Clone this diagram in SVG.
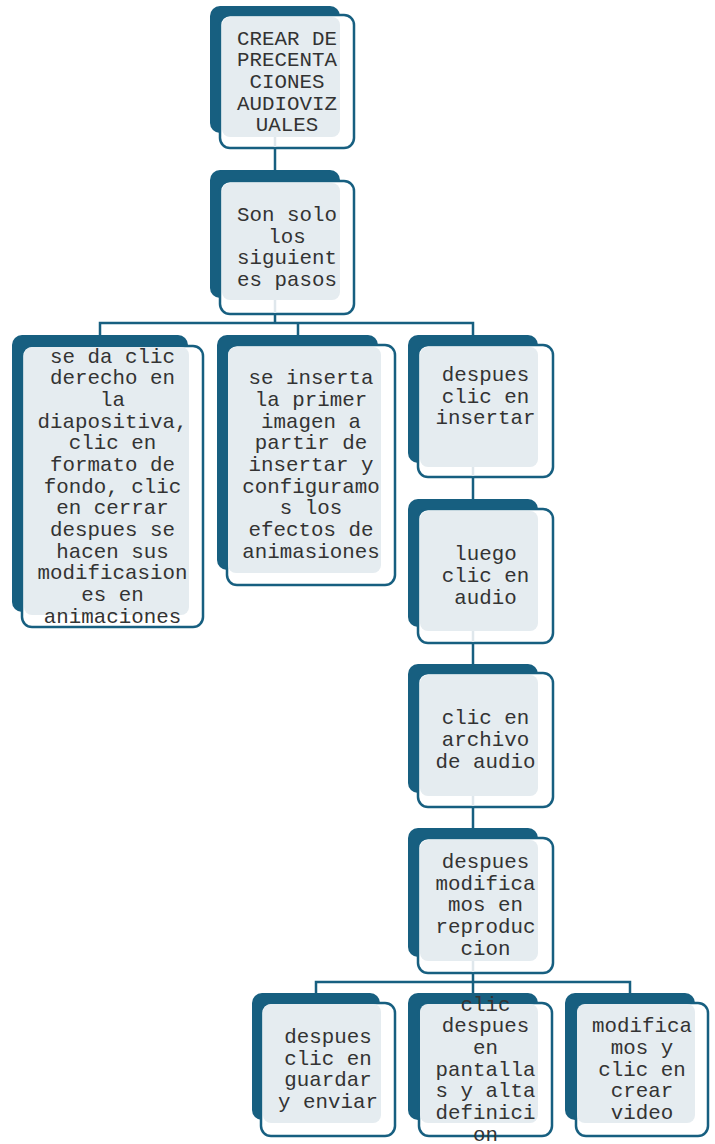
<svg xmlns="http://www.w3.org/2000/svg" width="715" height="1144" viewBox="0 0 715 1144">
<style>
.d{fill:#175f80}
.w{fill:#ffffff;stroke:#175f80;stroke-width:2.5}
.l{fill:#e5ecf0}
.t{font-family:"Liberation Mono","Courier New",monospace;font-size:20.8px;fill:#333333;text-anchor:middle}
.c{fill:none;stroke:#175f80;stroke-width:2.5}
.cl{fill:none;stroke:#dfe7ec;stroke-width:2.5}
</style>
<rect width="715" height="1144" fill="#ffffff"/>
<g id="connectors">
<path class="c" d="M275 148V170"/>
<path class="c" d="M275 314V323M100 335V323H473V335M298 323V335"/>
<path class="c" d="M473 477V499"/>
<path class="c" d="M473 643V664"/>
<path class="c" d="M473 807V828"/>
<path class="c" d="M473 973V982M316 993V982H630V993M473 982V993"/>
</g>
<g id="n1">
<rect class="d" x="210" y="6" width="130" height="127" rx="10"/>
<rect class="w" x="220" y="15" width="134" height="133" rx="10"/>
<rect class="l" x="222" y="17" width="118" height="120" rx="8"/>
<path class="cl" d="M275 137V147"/>
<text class="t" x="287" y="44.5"><tspan x="287">CREAR DE</tspan><tspan x="287" dy="21.67">PRECENTA</tspan><tspan x="287" dy="21.67">CIONES</tspan><tspan x="287" dy="21.67">AUDIOVIZ</tspan><tspan x="287" dy="21.67">UALES</tspan></text>
</g>
<g id="n2">
<rect class="d" x="210" y="170" width="130" height="128" rx="10"/>
<rect class="w" x="220" y="181" width="134" height="133" rx="10"/>
<rect class="l" x="222" y="183" width="118" height="117" rx="8"/>
<path class="cl" d="M275 300V313"/>
<text class="t" x="287" y="221"><tspan x="287">Son solo</tspan><tspan x="287" dy="21.67">los</tspan><tspan x="287" dy="21.67">siguient</tspan><tspan x="287" dy="21.67">es pasos</tspan></text>
</g>
<g id="n3a">
<rect class="d" x="12" y="335" width="176" height="277" rx="10"/>
<rect class="w" x="22" y="346" width="181" height="281" rx="10"/>
<rect class="l" x="24" y="347" width="165" height="268" rx="8"/>
<text class="t" x="112.5" y="362.5"><tspan x="112.5">se da clic</tspan><tspan x="112.5" dy="21.67">derecho en</tspan><tspan x="112.5" dy="21.67">la</tspan><tspan x="112.5" dy="21.67">diapositiva,</tspan><tspan x="112.5" dy="21.67">clic en</tspan><tspan x="112.5" dy="21.67">formato de</tspan><tspan x="112.5" dy="21.67">fondo, clic</tspan><tspan x="112.5" dy="21.67">en cerrar</tspan><tspan x="112.5" dy="21.67">despues se</tspan><tspan x="112.5" dy="21.67">hacen sus</tspan><tspan x="112.5" dy="21.67">modificasion</tspan><tspan x="112.5" dy="21.67">es en</tspan><tspan x="112.5" dy="21.67">animaciones</tspan></text>
</g>
<g id="n3b">
<rect class="d" x="217" y="335" width="161" height="235" rx="10"/>
<rect class="w" x="227" y="345" width="168" height="240" rx="10"/>
<rect class="l" x="228" y="347" width="153" height="226" rx="8"/>
<text class="t" x="311" y="384.3"><tspan x="311">se inserta</tspan><tspan x="311" dy="21.67">la primer</tspan><tspan x="311" dy="21.67">imagen a</tspan><tspan x="311" dy="21.67">partir de</tspan><tspan x="311" dy="21.67">insertar y</tspan><tspan x="311" dy="21.67">configuramo</tspan><tspan x="311" dy="21.67">s los</tspan><tspan x="311" dy="21.67">efectos de</tspan><tspan x="311" dy="21.67">animasiones</tspan></text>
</g>
<g id="n3c">
<rect class="d" x="408" y="335" width="130" height="128" rx="10"/>
<rect class="w" x="418" y="345" width="135" height="132" rx="10"/>
<rect class="l" x="420" y="347" width="118" height="120" rx="8"/>
<path class="cl" d="M473 467V476"/>
<text class="t" x="485.5" y="381"><tspan x="485.5">despues</tspan><tspan x="485.5" dy="21.67">clic en</tspan><tspan x="485.5" dy="21.67">insertar</tspan></text>
</g>
<g id="n4">
<rect class="d" x="408" y="499" width="130" height="128" rx="10"/>
<rect class="w" x="418" y="509" width="135" height="134" rx="10"/>
<rect class="l" x="420" y="511" width="118" height="120" rx="8"/>
<path class="cl" d="M473 631V642"/>
<text class="t" x="485.5" y="560.3"><tspan x="485.5">luego</tspan><tspan x="485.5" dy="21.67">clic en</tspan><tspan x="485.5" dy="21.67">audio</tspan></text>
</g>
<g id="n5">
<rect class="d" x="408" y="664" width="130" height="129" rx="10"/>
<rect class="w" x="418" y="673" width="135" height="134" rx="10"/>
<rect class="l" x="420" y="675" width="118" height="121" rx="8"/>
<path class="cl" d="M473 796V806"/>
<text class="t" x="485.5" y="724.3"><tspan x="485.5">clic en</tspan><tspan x="485.5" dy="21.67">archivo</tspan><tspan x="485.5" dy="21.67">de audio</tspan></text>
</g>
<g id="n6">
<rect class="d" x="408" y="828" width="130" height="129" rx="10"/>
<rect class="w" x="418" y="838" width="135" height="135" rx="10"/>
<rect class="l" x="420" y="840" width="118" height="121" rx="8"/>
<path class="cl" d="M473 961V972"/>
<text class="t" x="485.5" y="868"><tspan x="485.5">despues</tspan><tspan x="485.5" dy="21.67">modifica</tspan><tspan x="485.5" dy="21.67">mos en</tspan><tspan x="485.5" dy="21.67">reproduc</tspan><tspan x="485.5" dy="21.67">cion</tspan></text>
</g>
<g id="n7a">
<rect class="d" x="252" y="993" width="128" height="127" rx="10"/>
<rect class="w" x="261" y="1003" width="134" height="133" rx="10"/>
<rect class="l" x="263" y="1004" width="118" height="119" rx="8"/>
<text class="t" x="328" y="1043"><tspan x="328">despues</tspan><tspan x="328" dy="21.67">clic en</tspan><tspan x="328" dy="21.67">guardar</tspan><tspan x="328" dy="21.67">y enviar</tspan></text>
</g>
<g id="n7b">
<rect class="d" x="408" y="993" width="130" height="127" rx="10"/>
<rect class="w" x="419" y="1003" width="133" height="133" rx="10"/>
<rect class="l" x="420" y="1004" width="118" height="119" rx="8"/>
<text class="t" x="485.5" y="1010.5"><tspan x="485.5">clic</tspan><tspan x="485.5" dy="21.67">despues</tspan><tspan x="485.5" dy="21.67">en</tspan><tspan x="485.5" dy="21.67">pantalla</tspan><tspan x="485.5" dy="21.67">s y alta</tspan><tspan x="485.5" dy="21.67">definici</tspan><tspan x="485.5" dy="21.67">on</tspan></text>
</g>
<g id="n7c">
<rect class="d" x="565" y="993" width="130" height="127" rx="10"/>
<rect class="w" x="576" y="1003" width="132" height="133" rx="10"/>
<rect class="l" x="577" y="1004" width="118" height="119" rx="8"/>
<text class="t" x="642" y="1032.2"><tspan x="642">modifica</tspan><tspan x="642" dy="21.67">mos y</tspan><tspan x="642" dy="21.67">clic en</tspan><tspan x="642" dy="21.67">crear</tspan><tspan x="642" dy="21.67">video</tspan></text>
</g>
</svg>
